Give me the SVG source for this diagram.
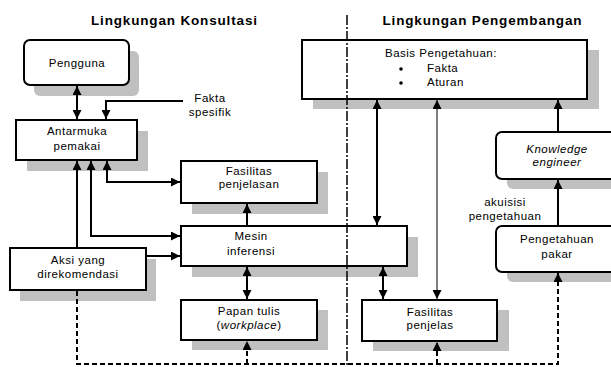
<svg xmlns="http://www.w3.org/2000/svg" width="611" height="367" viewBox="0 0 611 367">
<style>
text{font-family:"Liberation Sans",Arial,sans-serif;fill:#000}
.t{font-size:13.5px;font-weight:bold;text-anchor:middle}
.n{font-size:11.5px;text-anchor:middle;letter-spacing:0.5px}
.l{font-size:11.5px;letter-spacing:0.5px}
.box{fill:#fff;stroke:#000;stroke-width:2}
.sh{fill:#c0c0c0;stroke:none}
.c{fill:none;stroke:#000;stroke-width:2}
.thin{fill:none;stroke:#000;stroke-width:1}
.d{fill:none;stroke:#000;stroke-width:2;stroke-dasharray:5,3}
</style>
<defs>
<marker id="a" markerUnits="userSpaceOnUse" markerWidth="9" markerHeight="9" refX="8" refY="4" orient="auto-start-reverse" viewBox="0 0 8 8">
<path d="M0,0 L8,4 L0,8 z" fill="#000"/>
</marker>
</defs>
<g id="titles">
<text class="t" x="174" y="25" textLength="166" lengthAdjust="spacing">Lingkungan Konsultasi</text>
<text class="t" x="482" y="25" textLength="199" lengthAdjust="spacing">Lingkungan Pengembangan</text>
</g>
<g id="pengguna">
<rect class="sh" x="34" y="51" width="105" height="45" rx="6"/>
<rect class="box" x="24" y="40" width="105" height="45" rx="6"/>
<text class="n" x="77" y="67">Pengguna</text>
</g>
<g id="antarmuka">
<rect class="sh" x="27" y="131" width="121" height="40"/>
<rect class="box" x="16" y="120" width="121" height="40"/>
<text class="n" x="77" y="135">Antarmuka</text>
<text class="n" x="77" y="150">pemakai</text>
</g>
<g id="fakta-spesifik">
<text class="n" x="210" y="102">Fakta</text>
<text class="n" x="210" y="116">spesifik</text>
</g>
<g id="fasilitas-penjelasan">
<rect class="sh" x="192" y="172" width="136" height="42"/>
<rect class="box" x="181" y="161" width="136" height="42"/>
<text class="n" x="249" y="175">Fasilitas</text>
<text class="n" x="249" y="188">penjelasan</text>
</g>
<g id="mesin-inferensi">
<rect class="sh" x="192" y="237" width="226" height="40"/>
<rect class="box" x="181" y="226" width="226" height="40"/>
<text class="n" x="251" y="240">Mesin</text>
<text class="n" x="251" y="255">inferensi</text>
</g>
<g id="aksi">
<rect class="sh" x="20" y="259" width="136" height="42"/>
<rect class="box" x="10" y="248" width="136" height="42"/>
<text class="n" x="78" y="264">Aksi yang</text>
<text class="n" x="78" y="278">direkomendasi</text>
</g>
<g id="papan-tulis">
<rect class="sh" x="192" y="310" width="136" height="40"/>
<rect class="box" x="181" y="300" width="136" height="40"/>
<text class="n" x="249" y="315">Papan tulis</text>
<text class="n" x="249" y="329">(<tspan font-style="italic">workplace</tspan>)</text>
</g>
<g id="basis-pengetahuan">
<rect class="sh" x="313" y="50" width="286" height="59"/>
<rect class="box" x="302" y="40" width="285" height="59"/>
<text class="l" x="385" y="57">Basis Pengetahuan:</text>
<circle cx="401" cy="69" r="1.8" fill="#000"/>
<circle cx="401" cy="83" r="1.8" fill="#000"/>
<text class="l" x="427" y="72">Fakta</text>
<text class="l" x="427" y="86">Aturan</text>
</g>
<g id="knowledge-engineer">
<rect class="sh" x="507" y="142" width="130" height="47" rx="6"/>
<rect class="box" x="496" y="132" width="130" height="47" rx="6"/>
<text class="n" x="557" y="153" font-style="italic">Knowledge</text>
<text class="n" x="557" y="166" font-style="italic">engineer</text>
</g>
<g id="pengetahuan-pakar">
<rect class="sh" x="507" y="236" width="130" height="46" rx="6"/>
<rect class="box" x="496" y="226" width="130" height="46" rx="6"/>
<text class="n" x="557" y="243">Pengetahuan</text>
<text class="n" x="557" y="258">pakar</text>
</g>
<g id="fasilitas-penjelas">
<rect class="sh" x="373" y="310" width="136" height="41"/>
<rect class="box" x="362" y="300" width="135" height="41"/>
<text class="n" x="430" y="316">Fasilitas</text>
<text class="n" x="430" y="329">penjelas</text>
</g>
<g id="akuisisi-label">
<text class="n" x="505" y="206">akuisisi</text>
<text class="n" x="505" y="220">pengetahuan</text>
</g>
<g id="connectors">
<path class="c" d="M77,86 V119" marker-start="url(#a)" marker-end="url(#a)"/>
<path class="c" d="M183,101 H106 V119" marker-end="url(#a)"/>
<path class="c" d="M77,248 V161" marker-end="url(#a)"/>
<path class="c" d="M91,161 V236 H180" marker-start="url(#a)" marker-end="url(#a)"/>
<path class="c" d="M107,161 V182 H180" marker-start="url(#a)" marker-end="url(#a)"/>
<path class="c" d="M146,256 H180" marker-end="url(#a)"/>
<path class="c" d="M247,226 V204" marker-end="url(#a)"/>
<path class="c" d="M377,100 V225" marker-start="url(#a)" marker-end="url(#a)"/>
<path class="thin" d="M437,100 V299" marker-start="url(#a)" marker-end="url(#a)"/>
<path class="c" d="M383,267 V299" marker-start="url(#a)" marker-end="url(#a)"/>
<path class="c" d="M247,267 V299" marker-start="url(#a)" marker-end="url(#a)"/>
<path class="c" d="M558,226 V180" marker-end="url(#a)"/>
<path class="c" d="M558,132 V100" marker-end="url(#a)"/>
<path class="d" d="M77,291 V364 H558 V273" marker-end="url(#a)"/>
<path class="d" d="M247,364 V341" marker-end="url(#a)"/>
<path class="d" d="M437,364 V342" marker-end="url(#a)"/>
</g>
<g id="divider">
<path d="M347,15 V367" fill="none" stroke="#000" stroke-width="1.5" stroke-dasharray="10,2,2,2"/>
</g>
</svg>
